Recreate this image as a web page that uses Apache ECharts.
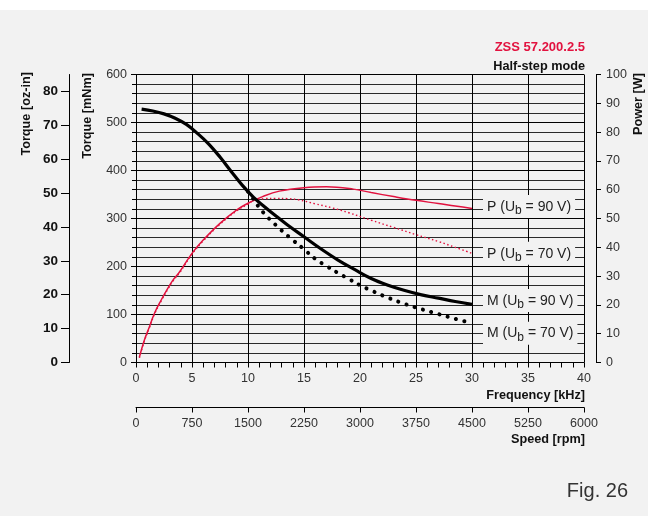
<!DOCTYPE html>
<html>
<head>
<meta charset="utf-8">
<script src="https://cdn.jsdelivr.net/npm/echarts@6/dist/echarts.min.js"></script>
<style>
  html, body { margin: 0; padding: 0; background: #f2f2f2; }
  #chart { width: 648px; height: 516px; }
</style>
</head>
<body>
<div id="chart"></div>
<script>
// Torque M (mNm) and power P (W) against step frequency (kHz)
const freqM90   = [0.5, 1.5, 2.5, 3.5, 4.5, 5.5, 6.5, 7.5, 8.5, 9.5, 10.5, 11.5, 12.5, 13.5, 15, 16.5, 18, 19.5, 21, 22.5, 24, 25.5, 27, 28.5, 30];
const torqueM90 = [528, 524, 518, 509, 496, 477, 455, 428, 398, 369, 344, 324, 305, 287, 262, 237, 214, 194, 175, 161, 150, 141, 134, 127, 121];

const freqM70   = [10, 10.5, 11, 11.5, 12, 12.5, 13, 14, 15, 16, 17, 18, 19, 20, 21, 22.5, 24, 25.5, 27, 28.5, 30];
const torqueM70 = [356, 340, 323, 309, 297, 286, 275, 255, 236, 216, 201, 187, 174, 161, 150, 135, 122, 111, 101, 91, 82];

const freqP90  = [0.3, 0.75, 1.2, 1.65, 2.25, 2.85, 3.3, 3.9, 5, 6, 7.5, 9, 10, 11.3, 12.8, 15, 17, 19.4, 21, 23, 25, 27, 28.5, 30];
const powerP90 = [1.8, 7.8, 12.4, 17.1, 21.7, 25.8, 28.6, 31.5, 37.9, 42.5, 48.3, 53.0, 55.3, 57.6, 59.5, 60.7, 61.0, 60.2, 59.0, 57.6, 56.3, 55.2, 54.3, 53.5];

const freqP70  = [0.3, 0.75, 1.2, 1.65, 2.25, 2.85, 3.3, 3.9, 5, 6, 7.5, 9, 10, 10.5, 11.5, 12.5, 13.5, 14.5, 16, 17.5, 19, 21, 23, 25, 27, 28.5, 30];
const powerP70 = [1.6, 7.5, 12.1, 16.8, 21.4, 25.5, 28.3, 31.2, 37.6, 42.2, 48.0, 52.7, 55.0, 56.2, 56.9, 57.0, 56.9, 56.5, 55.1, 53.7, 52.0, 49.4, 46.9, 44.4, 42.0, 40.0, 37.9];

// Curve captions: name, supply voltage
const captions = {
  P90: ['P', '90 V'],
  P70: ['P', '70 V'],
  M90: ['M', '90 V'],
  M70: ['M', '70 V']
};

// Secondary torque scale in oz-in (1 oz-in = 7.0616 mNm)
const MNM_PER_OZIN = 7.0616;
const ozinTicks = [0, 10, 20, 30, 40, 50, 60, 70, 80];

const RED = '#e2123f';
const FONT = '"Liberation Sans", Arial, sans-serif';

function pairs(xs, ys) { return xs.map((x, i) => [x, ys[i]]); }

function caption(key, dy) {
  const c = captions[key];
  return {
    show: true,
    formatter: '{t|' + c[0] + ' (U}{s|b}{t| = ' + c[1] + ')}',
    distance: 11,
    offset: [0, dy],
    backgroundColor: '#f2f2f2',
    padding: [2, 4, 1, 4],
    rich: {
      t: { fontFamily: FONT, fontSize: 14, lineHeight: 20, color: '#222' },
      s: { fontFamily: FONT, fontSize: 12, lineHeight: 12, color: '#222', verticalAlign: 'bottom' }
    }
  };
}

const black = { color: '#000', width: 1 };
const plain = v => String(v);
const TITLE_FONT = 'bold 12.7px ' + FONT;

const chart = echarts.init(document.getElementById('chart'), null, { renderer: 'canvas' });
chart.setOption({
  backgroundColor: '#f2f2f2',
  animation: false,
  grid: { left: 136, right: 64, top: 74.5, bottom: 153.5, containLabel: false },
  xAxis: [
    {
      type: 'value', min: 0, max: 40, interval: 5, position: 'bottom',
      axisLine: { show: true, onZero: false, lineStyle: black },
      axisTick: { show: true, length: 5, lineStyle: black },
      minorTick: { show: true, splitNumber: 5, length: 5, lineStyle: black },
      axisLabel: { margin: 10, fontFamily: FONT, fontSize: 12.5, color: '#333', formatter: plain },
      splitLine: { show: true, lineStyle: black }
    },
    {
      type: 'value', min: 0, max: 6000, interval: 750, position: 'bottom', offset: 45,
      axisLine: { show: true, onZero: false, lineStyle: black },
      axisTick: { show: true, length: 5, lineStyle: black },
      axisLabel: { margin: 10, fontFamily: FONT, fontSize: 12.5, color: '#333', formatter: plain },
      splitLine: { show: false }
    }
  ],
  yAxis: [
    {
      type: 'value', min: 0, max: 600, interval: 100, position: 'left',
      axisLine: { show: true, onZero: false, lineStyle: black },
      axisTick: { show: true, length: 5, lineStyle: black },
      minorTick: { show: true, splitNumber: 5, length: 4, lineStyle: black },
      axisLabel: { margin: 9, fontFamily: FONT, fontSize: 12.5, color: '#333', formatter: plain },
      splitLine: { show: true, lineStyle: black },
      minorSplitLine: { show: true, lineStyle: { color: '#2a2a2a', width: 1 } }
    },
    {
      type: 'value', min: 0, max: 600 / MNM_PER_OZIN, interval: 10, position: 'left', offset: 67,
      axisLine: { show: true, onZero: false, lineStyle: black },
      axisTick: { show: true, length: 8, lineStyle: black, customValues: ozinTicks },
      axisLabel: { margin: 11, fontFamily: FONT, fontSize: 13.5, fontWeight: 'bold', color: '#111',
                   customValues: ozinTicks, formatter: plain },
      splitLine: { show: false }
    },
    {
      type: 'value', min: 0, max: 100, interval: 10, position: 'right', offset: 12,
      axisLine: { show: true, onZero: false, lineStyle: black },
      axisTick: { show: true, length: 5, lineStyle: black },
      axisLabel: { margin: 10, fontFamily: FONT, fontSize: 12.5, color: '#333', formatter: plain },
      splitLine: { show: false }
    }
  ],
  series: [
    {
      name: 'P (Ub = 70 V)', type: 'line', xAxisIndex: 0, yAxisIndex: 2,
      data: pairs(freqP70, powerP70), smooth: 0.4, showSymbol: false, symbol: 'none',
      lineStyle: { color: RED, width: 1.4, type: [1.5, 2.5] },
      endLabel: caption('P70', 0), z: 3
    },
    {
      name: 'P (Ub = 90 V)', type: 'line', xAxisIndex: 0, yAxisIndex: 2,
      data: pairs(freqP90, powerP90), smooth: 0.4, showSymbol: false, symbol: 'none',
      lineStyle: { color: RED, width: 1.5 },
      endLabel: caption('P90', -2), z: 3
    },
    {
      name: 'M (Ub = 70 V)', type: 'line', xAxisIndex: 0, yAxisIndex: 0,
      data: pairs(freqM70, torqueM70), smooth: 0.4, showSymbol: false, symbol: 'none',
      lineStyle: { color: '#000', width: 4, type: [0.1, 8.5], cap: 'round' },
      endLabel: caption('M70', 10), z: 4
    },
    {
      name: 'M (Ub = 90 V)', type: 'line', xAxisIndex: 0, yAxisIndex: 0,
      data: pairs(freqM90, torqueM90), smooth: 0.4, showSymbol: false, symbol: 'none',
      lineStyle: { color: '#000', width: 3.2 },
      endLabel: caption('M90', -4), z: 5
    }
  ],
  graphic: [
    { type: 'rect', left: 0, top: 0, shape: { width: 648, height: 10 }, style: { fill: '#ffffff' }, silent: true },
    { type: 'text', x: 26, y: 72, rotation: Math.PI / 2,
      style: { text: 'Torque [oz-in]', font: TITLE_FONT, fill: '#111', align: 'right', verticalAlign: 'middle' } },
    { type: 'text', x: 87, y: 73, rotation: Math.PI / 2,
      style: { text: 'Torque [mNm]', font: TITLE_FONT, fill: '#111', align: 'right', verticalAlign: 'middle' } },
    { type: 'text', x: 638, y: 73, rotation: Math.PI / 2,
      style: { text: 'Power [W]', font: TITLE_FONT, fill: '#111', align: 'right', verticalAlign: 'middle' } },
    { type: 'text', x: 585, y: 395,
      style: { text: 'Frequency [kHz]', font: TITLE_FONT, fill: '#111', align: 'right', verticalAlign: 'middle' } },
    { type: 'text', x: 585, y: 439,
      style: { text: 'Speed [rpm]', font: TITLE_FONT, fill: '#111', align: 'right', verticalAlign: 'middle' } },
    { type: 'text', x: 585, y: 47,
      style: { text: 'ZSS 57.200.2.5', font: 'bold 13px ' + FONT, fill: RED, align: 'right', verticalAlign: 'middle' } },
    { type: 'text', x: 585, y: 66,
      style: { text: 'Half-step mode', font: TITLE_FONT, fill: '#111', align: 'right', verticalAlign: 'middle' } },
    { type: 'text', x: 628, y: 491,
      style: { text: 'Fig. 26', font: '20px ' + FONT, fill: '#333', align: 'right', verticalAlign: 'middle' } }
  ]
});
</script>
</body>
</html>
